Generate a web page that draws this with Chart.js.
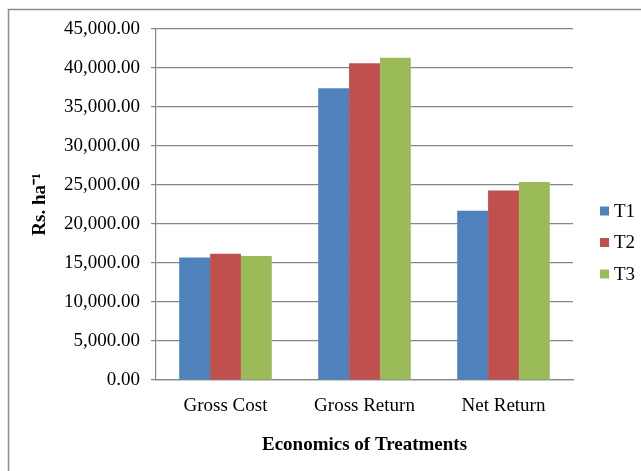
<!DOCTYPE html>
<html>
<head>
<meta charset="utf-8">
<script src="https://cdn.jsdelivr.net/npm/chart.js@4/dist/chart.umd.min.js"></script>
<style>
  html, body { margin: 0; padding: 0; background: #ffffff; }
  #wrap { width: 641px; height: 471px; }
</style>
</head>
<body>
<div id="wrap"><canvas id="c" width="641" height="471"></canvas></div>
<script>
// Economics of treatments (Rs. per hectare)
const categories = ['Gross Cost', 'Gross Return', 'Net Return'];
const seriesNames = ['T1', 'T2', 'T3'];
const t1 = [15700, 37400, 21700];
const t2 = [16200, 40600, 24300];
const t3 = [15900, 41300, 25400];
const seriesColors = ['#4F81BD', '#C0504D', '#9BBB59'];
const yMin = 0, yMax = 45000, yStep = 5000;

const serif = '"Liberation Serif", "Times New Roman", serif';
const axisGray = '#868686';

// outer frame of the chart area (top and left edges)
const framePlugin = {
  id: 'frame',
  beforeDraw(chart) {
    const ctx = chart.ctx;
    ctx.save();
    ctx.fillStyle = '#ffffff';
    ctx.fillRect(0, 0, chart.width, chart.height);
    ctx.strokeStyle = '#8c8c8c';
    ctx.lineWidth = 1.5;
    ctx.beginPath();
    ctx.moveTo(8.5, chart.height);
    ctx.lineTo(8.5, 9.5);
    ctx.lineTo(chart.width, 9.5);
    ctx.stroke();
    ctx.restore();
  }
};

// legend at the right: coloured square + series name
const sideLegend = {
  id: 'sideLegend',
  afterDraw(chart) {
    const ctx = chart.ctx;
    const x0 = 600, yStart = 211, gap = 31.5, box = 9;
    ctx.save();
    ctx.font = '19px ' + serif;
    ctx.textBaseline = 'middle';
    ctx.textAlign = 'left';
    chart.data.datasets.forEach((ds, i) => {
      const y = yStart + i * gap;
      ctx.fillStyle = ds.backgroundColor;
      ctx.fillRect(x0, y - box / 2, box, box);
      ctx.fillStyle = '#000000';
      ctx.fillText(ds.label, x0 + 14, y + 1);
    });
    ctx.restore();
  }
};

const seriesData = [t1, t2, t3];

new Chart(document.getElementById('c'), {
  type: 'bar',
  data: {
    labels: categories,
    datasets: seriesNames.map((name, i) => ({
      label: name,
      data: seriesData[i],
      backgroundColor: seriesColors[i],
      borderWidth: 0,
      categoryPercentage: 0.666,
      barPercentage: 1.0
    }))
  },
  options: {
    responsive: false,
    animation: false,
    devicePixelRatio: 1,
    layout: { padding: { left: 0, top: 29, right: 68, bottom: 0 } },
    plugins: {
      legend: { display: false },
      tooltip: { enabled: false }
    },
    scales: {
      x: {
        offset: true,
        grid: { display: false, drawTicks: false },
        border: { display: true, color: axisGray, width: 1.2 },
        ticks: {
          color: '#000000',
          font: { family: serif, size: 19 },
          padding: 15,
          maxRotation: 0
        },
        title: {
          display: true,
          text: 'Economics of Treatments',
          color: '#000000',
          font: { family: serif, size: 19, weight: 'bold' },
          padding: { top: 0, bottom: 15 }
        },
        afterFit(scale) { scale.height = 91; }
      },
      y: {
        min: yMin,
        max: yMax,
        ticks: {
          stepSize: yStep,
          color: '#000000',
          font: { family: serif, size: 19 },
          padding: 11,
          callback: v => Number(v).toLocaleString('en-US', { minimumFractionDigits: 2, maximumFractionDigits: 2 })
        },
        grid: { color: axisGray, lineWidth: 1.2, tickLength: 5 },
        border: { display: true, color: axisGray, width: 1.2 },
        title: {
          display: true,
          text: 'Rs. ha\u207B\u00B9',
          color: '#000000',
          font: { family: serif, size: 19, weight: 'bold' },
          padding: { top: 29, bottom: 0 }
        },
        afterFit(scale) { scale.width = 156; }
      }
    }
  },
  plugins: [framePlugin, sideLegend]
});
</script>
</body>
</html>
